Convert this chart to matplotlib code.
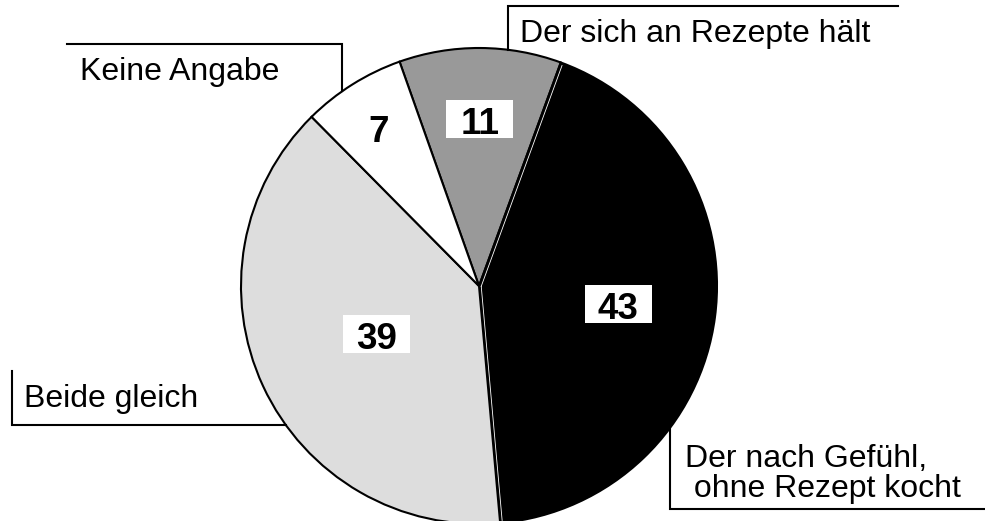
import numpy as np
import matplotlib
matplotlib.use("Agg")
import matplotlib.pyplot as plt
from matplotlib.patches import Rectangle

# ---- data ----
categories = ["Der sich an Rezepte hält", "Der nach Gefühl,\n ohne Rezept kocht",
              "Beide gleich", "Keine Angabe"]
values = [11, 43, 39, 7]
colors = ["#999999", "#000000", "#dddddd", "#ffffff"]

W, H = 985, 521
plt.rcParams['font.family'] = ['Liberation Sans', 'DejaVu Sans']

fig = plt.figure(figsize=(W / 100, H / 100), dpi=100)
ax = fig.add_axes([0, 0, 1, 1])

def Y(y):  # pixel y (top-down) -> data y
    return H - y

cx, cy, R = 479, 286, 238
wedges, _ = ax.pie(values, colors=colors, startangle=109.5, counterclock=False,
                   center=(cx, Y(cy)), radius=R,
                   wedgeprops=dict(edgecolor="black", linewidth=1.5))
ax.set_xlim(0, W)
ax.set_ylim(0, H)
ax.set_aspect('auto')
ax.axis('off')

# thin white inner line along the radial edges of the black wedge
bw = wedges[1]
for th, sgn in ((bw.theta1, 1), (bw.theta2, -1)):
    t = np.deg2rad(th)
    d = np.array([np.cos(t), np.sin(t)])
    n = np.array([-np.sin(t), np.cos(t)]) * sgn
    p0 = np.array([cx, Y(cy)]) + n * 2.2
    p1 = p0 + d * (R - 2)
    ax.plot([p0[0], p1[0]], [p0[1], p1[1]], color="white", lw=0.6, zorder=5,
            solid_capstyle='butt')

# value labels in white boxes
fracs = [0.70, 0.59, 0.476, 0.79]
for w, v, f in zip(wedges, values, fracs):
    mid = np.deg2rad((w.theta1 + w.theta2) / 2)
    px = cx + f * R * np.cos(mid)
    py = cy - f * R * np.sin(mid)
    ax.add_patch(Rectangle((px - 33.5, Y(py) - 19), 67, 38, facecolor="white",
                           edgecolor="none", zorder=6))
    ax.text(px, Y(py + 15), str(v), ha="center", va="baseline",
            fontsize=26.5, fontweight="bold", zorder=7)

# leader lines
def edge_y(x, sign):
    return cy + sign * np.sqrt(R ** 2 - (x - cx) ** 2)

lk = dict(color="black", lw=1.5, solid_joinstyle='miter', zorder=8)
ax.plot([67, 342, 342], [Y(44), Y(44), Y(edge_y(342, -1))], **lk)
ax.plot([898, 508, 508], [Y(6), Y(6), Y(edge_y(508, -1))], **lk)
xb = cx - np.sqrt(R ** 2 - (425 - cy) ** 2)
ax.plot([12, 12, xb], [Y(371), Y(425), Y(425)], **lk)
ax.plot([670, 670, W + 5], [Y(edge_y(670, 1)), Y(509), Y(509)], **lk)

# category labels
fs = 23
ax.text(520, Y(42), categories[0], fontsize=fs, va="baseline", ha="left")
l1, l2 = categories[1].split("\n")
ax.text(685, Y(467), l1, fontsize=fs, va="baseline", ha="left")
ax.text(685, Y(497), l2, fontsize=fs, va="baseline", ha="left")
ax.text(24, Y(407), categories[2], fontsize=fs, va="baseline", ha="left")
ax.text(80, Y(80), categories[3], fontsize=fs, va="baseline", ha="left")

fig.savefig("out.png", dpi=100)
